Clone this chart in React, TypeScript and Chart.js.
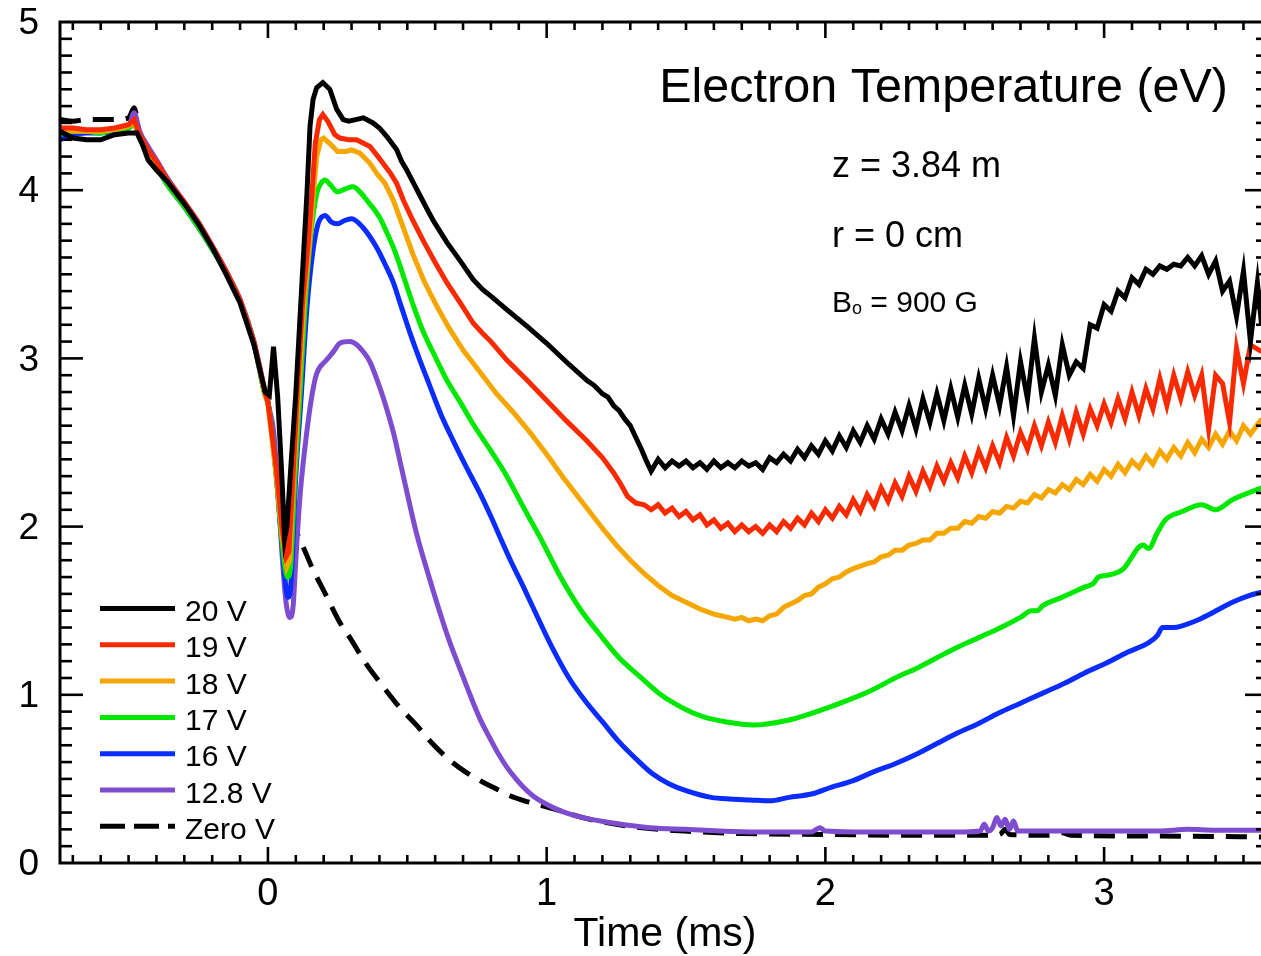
import React, { useEffect, useRef } from "react";
import { Chart, registerables } from "chart.js";

Chart.register(...registerables);

// ---------- axes ----------
const X_MIN = -0.746;
const X_MAX = 3.588;
const Y_MIN = 0;
const Y_MAX = 5;
const X_TICK_LABELS = [0, 1, 2, 3];
const Y_TICK_LABELS = [0, 1, 2, 3, 4, 5];
const X_TITLE = "Time (ms)";
const PLOT_TITLE = "Electron Temperature (eV)";
const NOTE_Z = "z = 3.84 m";
const NOTE_R = "r = 0 cm";
const NOTE_B_MAIN = "B";
const NOTE_B_SUB = "o";
const NOTE_B_REST = " = 900 G";

const SERIES_LABELS = ["20 V", "19 V", "18 V", "17 V", "16 V", "12.8 V", "Zero V"];
const SERIES_COLORS = ["#000000", "#fa2a00", "#f5a600", "#00e800", "#0a2cff", "#7d4ccf", "#000000"];

// ---------- data: [time (ms), Te (eV)] ----------
const V20: number[][] = [
  [-0.746, 4.35], [-0.70, 4.31], [-0.65, 4.30], [-0.60, 4.30], [-0.55, 4.33], [-0.50, 4.34], [-0.47, 4.34],
  [-0.45, 4.27], [-0.43, 4.18], [-0.40, 4.12], [-0.36, 4.05], [-0.30, 3.92], [-0.25, 3.80], [-0.20, 3.66],
  [-0.15, 3.50], [-0.10, 3.33], [-0.05, 3.08], [-0.01, 2.80], [0.005, 2.78], [0.02, 3.07], [0.035, 2.77],
  [0.05, 2.30], [0.06, 1.93], [0.068, 2.00], [0.08, 2.30], [0.10, 2.79], [0.12, 3.39], [0.14, 3.98],
  [0.151, 4.38], [0.162, 4.54], [0.175, 4.61], [0.197, 4.64], [0.222, 4.60], [0.247, 4.48], [0.27, 4.42],
  [0.29, 4.41], [0.315, 4.42], [0.342, 4.43], [0.377, 4.40], [0.40, 4.37], [0.426, 4.32], [0.462, 4.24],
  [0.48, 4.17], [0.498, 4.12], [0.52, 4.05], [0.545, 3.97], [0.57, 3.89], [0.593, 3.82], [0.642, 3.69],
  [0.69, 3.58], [0.736, 3.47], [0.77, 3.41], [0.80, 3.37], [0.857, 3.29], [0.93, 3.19], [1.0, 3.09],
  [1.07, 2.98], [1.144, 2.87], [1.17, 2.84], [1.20, 2.79], [1.22, 2.77], [1.24, 2.72], [1.26, 2.69],
  [1.28, 2.64], [1.30, 2.60], [1.32, 2.53], [1.34, 2.46], [1.355, 2.40],
  [1.375, 2.33], [1.40, 2.40], [1.425, 2.35], [1.45, 2.39], [1.475, 2.36], [1.50, 2.39], [1.525, 2.35],
  [1.55, 2.38], [1.575, 2.34], [1.60, 2.39], [1.625, 2.35], [1.65, 2.38], [1.675, 2.35], [1.70, 2.39],
  [1.725, 2.36], [1.75, 2.38], [1.775, 2.34], [1.80, 2.41], [1.825, 2.38], [1.85, 2.43], [1.875, 2.39],
  [1.90, 2.46], [1.925, 2.41], [1.95, 2.48], [1.975, 2.43], [2.00, 2.51], [2.025, 2.45], [2.05, 2.54],
  [2.075, 2.47], [2.10, 2.57], [2.125, 2.50], [2.15, 2.60], [2.175, 2.52], [2.20, 2.64], [2.225, 2.55],
  [2.25, 2.68], [2.275, 2.57], [2.30, 2.72], [2.325, 2.58], [2.35, 2.76], [2.375, 2.62], [2.40, 2.79],
  [2.425, 2.63], [2.45, 2.82], [2.475, 2.65], [2.50, 2.84], [2.525, 2.67], [2.55, 2.88], [2.575, 2.70],
  [2.60, 2.90], [2.625, 2.72], [2.65, 2.95], [2.675, 2.66], [2.70, 2.98], [2.725, 2.76], [2.75, 3.12],
  [2.775, 2.80], [2.80, 2.96], [2.825, 2.78], [2.85, 3.08], [2.875, 2.90], [2.90, 2.98], [2.925, 2.94],
  [2.95, 3.20], [2.975, 3.18], [3.00, 3.32], [3.025, 3.28], [3.05, 3.40], [3.075, 3.36], [3.10, 3.48],
  [3.125, 3.44], [3.15, 3.53], [3.175, 3.50], [3.20, 3.55], [3.225, 3.53], [3.25, 3.56], [3.275, 3.55],
  [3.30, 3.60], [3.325, 3.55], [3.35, 3.61], [3.375, 3.50], [3.40, 3.58], [3.425, 3.40], [3.45, 3.46],
  [3.475, 3.25], [3.50, 3.52], [3.525, 3.10], [3.55, 3.45], [3.565, 3.20],
];

const V19: number[][] = [
  [-0.746, 4.37], [-0.70, 4.37], [-0.65, 4.36], [-0.60, 4.36], [-0.55, 4.37], [-0.50, 4.39], [-0.48, 4.42],
  [-0.46, 4.33], [-0.43, 4.24], [-0.40, 4.17], [-0.36, 4.06], [-0.30, 3.93], [-0.25, 3.81], [-0.20, 3.67],
  [-0.15, 3.52], [-0.10, 3.35], [-0.05, 3.10], [-0.01, 2.80], [0.0, 2.74], [0.03, 2.35], [0.05, 2.00],
  [0.065, 1.82], [0.075, 1.85], [0.09, 2.30], [0.105, 2.79], [0.125, 3.35], [0.145, 3.70], [0.158, 3.98],
  [0.17, 4.28], [0.185, 4.42], [0.197, 4.45], [0.215, 4.41], [0.24, 4.33], [0.258, 4.31], [0.29, 4.30],
  [0.318, 4.30], [0.366, 4.26], [0.39, 4.21], [0.413, 4.16], [0.44, 4.10], [0.462, 4.04], [0.486, 3.94],
  [0.52, 3.82], [0.557, 3.70], [0.60, 3.57], [0.642, 3.45], [0.69, 3.33], [0.736, 3.21], [0.77, 3.15],
  [0.80, 3.10], [0.857, 2.99], [0.93, 2.87], [1.0, 2.75], [1.07, 2.63], [1.144, 2.51], [1.20, 2.41],
  [1.24, 2.32], [1.263, 2.26], [1.29, 2.18], [1.32, 2.14],
  [1.35, 2.13], [1.375, 2.10], [1.40, 2.13], [1.425, 2.08], [1.45, 2.11], [1.475, 2.06], [1.50, 2.09],
  [1.525, 2.04], [1.55, 2.07], [1.575, 2.01], [1.60, 2.04], [1.625, 1.99], [1.65, 2.02], [1.675, 1.97],
  [1.70, 2.01], [1.725, 1.97], [1.75, 2.00], [1.775, 1.96], [1.80, 2.01], [1.825, 1.97], [1.85, 2.03],
  [1.875, 1.99], [1.90, 2.05], [1.925, 2.01], [1.95, 2.08], [1.975, 2.03], [2.00, 2.10], [2.025, 2.05],
  [2.05, 2.12], [2.075, 2.07], [2.10, 2.16], [2.125, 2.09], [2.15, 2.19], [2.175, 2.12], [2.20, 2.23],
  [2.225, 2.15], [2.25, 2.26], [2.275, 2.18], [2.30, 2.30], [2.325, 2.21], [2.35, 2.33], [2.375, 2.24],
  [2.40, 2.36], [2.425, 2.27], [2.45, 2.38], [2.475, 2.29], [2.50, 2.42], [2.525, 2.32], [2.55, 2.45],
  [2.575, 2.35], [2.60, 2.48], [2.625, 2.38], [2.65, 2.53], [2.675, 2.42], [2.70, 2.56], [2.725, 2.46],
  [2.75, 2.60], [2.775, 2.48], [2.80, 2.62], [2.825, 2.50], [2.85, 2.66], [2.875, 2.52], [2.90, 2.68],
  [2.925, 2.55], [2.95, 2.70], [2.975, 2.60], [3.00, 2.73], [3.025, 2.62], [3.05, 2.76], [3.075, 2.64],
  [3.10, 2.80], [3.125, 2.66], [3.15, 2.82], [3.175, 2.70], [3.20, 2.88], [3.225, 2.72], [3.25, 2.90],
  [3.275, 2.76], [3.30, 2.92], [3.325, 2.78], [3.35, 2.90], [3.375, 2.58], [3.40, 2.90], [3.425, 2.85],
  [3.45, 2.62], [3.475, 3.06], [3.50, 2.85], [3.525, 3.08], [3.565, 3.04],
];

const V18: number[][] = [
  [-0.746, 4.36], [-0.70, 4.35], [-0.65, 4.35], [-0.60, 4.35], [-0.55, 4.36], [-0.50, 4.38], [-0.48, 4.40],
  [-0.46, 4.32], [-0.43, 4.23], [-0.40, 4.16], [-0.36, 4.05], [-0.30, 3.92], [-0.25, 3.80], [-0.20, 3.66],
  [-0.15, 3.51], [-0.10, 3.34], [-0.05, 3.09], [-0.01, 2.78], [0.0, 2.73], [0.03, 2.30], [0.05, 1.95],
  [0.068, 1.76], [0.078, 1.80], [0.093, 2.30], [0.11, 2.79], [0.13, 3.35], [0.15, 3.70], [0.163, 3.98],
  [0.175, 4.20], [0.19, 4.30], [0.20, 4.31], [0.22, 4.28], [0.25, 4.23], [0.28, 4.23], [0.30, 4.24],
  [0.33, 4.22], [0.366, 4.16], [0.39, 4.10], [0.42, 4.04], [0.45, 3.94], [0.485, 3.78], [0.52, 3.62],
  [0.56, 3.46], [0.606, 3.31], [0.65, 3.18], [0.70, 3.05], [0.76, 2.92], [0.82, 2.79], [0.88, 2.68],
  [0.94, 2.56], [1.0, 2.43], [1.06, 2.29], [1.13, 2.14], [1.20, 1.99], [1.25, 1.89], [1.30, 1.80],
  [1.35, 1.72], [1.40, 1.65], [1.45, 1.59], [1.50, 1.55], [1.55, 1.51],
  [1.60, 1.48], [1.625, 1.47], [1.65, 1.46], [1.675, 1.45], [1.70, 1.46], [1.725, 1.44], [1.75, 1.45],
  [1.775, 1.44], [1.80, 1.47], [1.825, 1.48], [1.85, 1.52], [1.875, 1.54], [1.90, 1.56], [1.925, 1.59],
  [1.95, 1.60], [1.975, 1.64], [2.00, 1.66], [2.025, 1.69], [2.05, 1.70], [2.075, 1.73], [2.10, 1.75],
  [2.15, 1.78], [2.175, 1.79], [2.20, 1.82], [2.225, 1.83], [2.25, 1.86], [2.275, 1.86], [2.30, 1.89],
  [2.325, 1.90], [2.35, 1.92], [2.375, 1.92], [2.40, 1.96], [2.425, 1.96], [2.45, 1.99], [2.475, 1.99],
  [2.50, 2.03], [2.525, 2.02], [2.55, 2.06], [2.575, 2.05], [2.60, 2.09], [2.625, 2.08], [2.65, 2.12],
  [2.675, 2.11], [2.70, 2.15], [2.725, 2.14], [2.75, 2.19], [2.775, 2.17], [2.80, 2.22], [2.825, 2.20],
  [2.85, 2.25], [2.875, 2.22], [2.90, 2.28], [2.925, 2.25], [2.95, 2.31], [2.975, 2.27], [3.00, 2.34],
  [3.025, 2.30], [3.05, 2.37], [3.075, 2.32], [3.10, 2.39], [3.125, 2.35], [3.15, 2.42], [3.175, 2.37],
  [3.20, 2.45], [3.225, 2.40], [3.25, 2.47], [3.275, 2.42], [3.30, 2.50], [3.325, 2.44], [3.35, 2.52],
  [3.375, 2.47], [3.40, 2.55], [3.425, 2.49], [3.45, 2.57], [3.475, 2.51], [3.50, 2.60], [3.525, 2.55],
  [3.565, 2.64],
];

const V17: number[][] = [
  [-0.746, 4.33], [-0.70, 4.35], [-0.65, 4.35], [-0.60, 4.34], [-0.55, 4.36], [-0.50, 4.37], [-0.48, 4.39],
  [-0.46, 4.31], [-0.43, 4.21], [-0.40, 4.14], [-0.36, 4.03], [-0.30, 3.90], [-0.25, 3.78], [-0.20, 3.65],
  [-0.15, 3.51], [-0.10, 3.34], [-0.05, 3.09], [-0.01, 2.78], [0.0, 2.74], [0.03, 2.30], [0.05, 1.92],
  [0.07, 1.70], [0.08, 1.74], [0.097, 2.30], [0.115, 2.79], [0.135, 3.35], [0.155, 3.75], [0.175, 3.98],
  [0.19, 4.04], [0.205, 4.06], [0.225, 4.03], [0.25, 3.99], [0.28, 4.01], [0.305, 4.02], [0.33, 3.99],
  [0.355, 3.94], [0.40, 3.84], [0.426, 3.75], [0.45, 3.66], [0.474, 3.55], [0.498, 3.43], [0.527, 3.29],
  [0.557, 3.16], [0.60, 3.01], [0.642, 2.87], [0.69, 2.74], [0.736, 2.61], [0.80, 2.45], [0.857, 2.30],
  [0.915, 2.12], [0.975, 1.94], [1.05, 1.70], [1.12, 1.51], [1.19, 1.36], [1.26, 1.22], [1.34, 1.10],
  [1.41, 1.00], [1.49, 0.92], [1.56, 0.87], [1.64, 0.84], [1.74, 0.82], [1.87, 0.85], [1.95, 0.89],
  [2.02, 0.93], [2.10, 0.98], [2.17, 1.03], [2.25, 1.10], [2.33, 1.16], [2.40, 1.22], [2.47, 1.28],
  [2.55, 1.34], [2.63, 1.40], [2.70, 1.46], [2.74, 1.50], [2.76, 1.50], [2.78, 1.53], [2.85, 1.58],
  [2.93, 1.64], [2.96, 1.66], [2.98, 1.70], [3.01, 1.71], [3.07, 1.75], [3.10, 1.82], [3.12, 1.87],
  [3.14, 1.89], [3.16, 1.87], [3.19, 1.96], [3.22, 2.04], [3.28, 2.09], [3.35, 2.13], [3.40, 2.10],
  [3.46, 2.16], [3.565, 2.23],
];

const V16: number[][] = [
  [-0.746, 4.30], [-0.70, 4.33], [-0.65, 4.34], [-0.60, 4.34], [-0.55, 4.35], [-0.50, 4.37], [-0.48, 4.39],
  [-0.46, 4.31], [-0.43, 4.21], [-0.40, 4.14], [-0.36, 4.03], [-0.30, 3.90], [-0.25, 3.78], [-0.20, 3.65],
  [-0.15, 3.51], [-0.10, 3.34], [-0.05, 3.09], [-0.01, 2.78], [0.0, 2.74], [0.03, 2.30], [0.05, 1.90],
  [0.072, 1.58], [0.082, 1.65], [0.10, 2.30], [0.12, 2.79], [0.14, 3.30], [0.16, 3.62], [0.18, 3.80],
  [0.205, 3.85], [0.228, 3.81], [0.25, 3.80], [0.275, 3.82], [0.30, 3.83], [0.34, 3.78], [0.39, 3.66],
  [0.426, 3.54], [0.45, 3.45], [0.474, 3.33], [0.51, 3.15], [0.545, 2.99], [0.58, 2.84], [0.62, 2.67],
  [0.665, 2.51], [0.71, 2.36], [0.76, 2.20], [0.80, 2.06], [0.832, 1.94], [0.87, 1.80], [0.92, 1.63],
  [0.965, 1.47], [1.02, 1.28], [1.08, 1.10], [1.14, 0.96], [1.20, 0.84], [1.26, 0.72], [1.32, 0.62],
  [1.38, 0.53], [1.44, 0.47], [1.50, 0.43], [1.59, 0.39], [1.66, 0.38], [1.73, 0.375], [1.80, 0.37],
  [1.87, 0.39], [1.95, 0.41], [2.02, 0.45], [2.10, 0.49], [2.17, 0.54], [2.25, 0.59], [2.33, 0.65],
  [2.40, 0.71], [2.47, 0.77], [2.55, 0.83], [2.62, 0.89], [2.70, 0.95], [2.78, 1.01], [2.86, 1.07],
  [2.93, 1.13], [3.01, 1.19], [3.08, 1.25], [3.16, 1.31], [3.19, 1.35], [3.21, 1.40], [3.25, 1.40],
  [3.28, 1.41], [3.33, 1.44], [3.38, 1.48], [3.46, 1.55], [3.52, 1.59], [3.565, 1.61],
];

const V12_8: number[][] = [
  [-0.746, 4.32], [-0.70, 4.34], [-0.65, 4.35], [-0.60, 4.35], [-0.55, 4.36], [-0.50, 4.38], [-0.48, 4.46],
  [-0.46, 4.35], [-0.43, 4.26], [-0.40, 4.18], [-0.36, 4.07], [-0.30, 3.93], [-0.25, 3.81], [-0.20, 3.67],
  [-0.15, 3.52], [-0.10, 3.35], [-0.05, 3.10], [-0.01, 2.80], [0.0, 2.73], [0.02, 2.57], [0.035, 2.25],
  [0.05, 1.85], [0.065, 1.55], [0.079, 1.46], [0.09, 1.52], [0.10, 1.80], [0.115, 2.18], [0.14, 2.57],
  [0.16, 2.80], [0.175, 2.91], [0.21, 2.99], [0.235, 3.04], [0.258, 3.09], [0.294, 3.10], [0.32, 3.08],
  [0.342, 3.04], [0.366, 2.98], [0.39, 2.88], [0.413, 2.77], [0.45, 2.56], [0.475, 2.38], [0.498, 2.21],
  [0.533, 1.96], [0.58, 1.69], [0.615, 1.50], [0.653, 1.31], [0.69, 1.15], [0.725, 1.00], [0.76, 0.86],
  [0.797, 0.74], [0.83, 0.64], [0.857, 0.57], [0.89, 0.50], [0.917, 0.45], [0.95, 0.40], [0.988, 0.36],
  [1.05, 0.31], [1.13, 0.27], [1.25, 0.235], [1.37, 0.21], [1.50, 0.20], [1.73, 0.185], [1.95, 0.185],
  [1.98, 0.21], [2.00, 0.19], [2.10, 0.185], [2.30, 0.185], [2.50, 0.185], [2.555, 0.19], [2.57, 0.23],
  [2.585, 0.19], [2.60, 0.21], [2.615, 0.27], [2.63, 0.22], [2.645, 0.26], [2.66, 0.20], [2.675, 0.25],
  [2.69, 0.19], [2.80, 0.19], [3.00, 0.19], [3.20, 0.19], [3.30, 0.20], [3.40, 0.195], [3.565, 0.195],
];

const V0: number[][] = [
  [-0.746, 4.42], [-0.70, 4.41], [-0.65, 4.42], [-0.60, 4.42], [-0.55, 4.42], [-0.50, 4.43], [-0.48, 4.49],
  [-0.46, 4.33], [-0.43, 4.22], [-0.40, 4.15], [-0.36, 4.05], [-0.30, 3.92], [-0.25, 3.80], [-0.20, 3.66],
  [-0.15, 3.51], [-0.10, 3.34], [-0.05, 3.09], [-0.01, 2.79], [0.0, 2.74], [0.03, 2.35], [0.06, 2.05],
  [0.09, 2.00], [0.121, 1.90], [0.16, 1.75], [0.20, 1.62], [0.258, 1.43], [0.294, 1.34], [0.35, 1.19],
  [0.413, 1.05], [0.47, 0.93], [0.533, 0.82], [0.59, 0.71], [0.653, 0.61], [0.71, 0.54], [0.772, 0.48],
  [0.82, 0.44], [0.868, 0.40], [0.92, 0.37], [0.965, 0.35], [1.05, 0.31], [1.13, 0.27], [1.25, 0.23],
  [1.40, 0.20], [1.55, 0.185], [1.70, 0.175], [2.00, 0.17], [2.30, 0.165], [2.60, 0.165], [2.63, 0.175],
  [2.645, 0.20], [2.66, 0.17], [2.80, 0.165], [2.85, 0.18], [2.88, 0.165], [3.20, 0.16], [3.565, 0.155],
];

const SERIES_DATA = [V20, V19, V18, V17, V16, V12_8, V0];
const SERIES_NOISY = [true, true, true, false, false, false, false];

const FONT = '"Liberation Sans", Arial, Helvetica, sans-serif';

const framePlugin = {
  id: "frameAndText",
  afterDraw(chart: any) {
    const ctx: CanvasRenderingContext2D = chart.ctx;
    const xs = chart.scales.x;
    const ys = chart.scales.y;
    const { left, right, top, bottom } = chart.chartArea;
    ctx.save();
    ctx.strokeStyle = "#000";
    ctx.fillStyle = "#000";
    ctx.lineWidth = 3;
    ctx.lineCap = "butt";
    ctx.setLineDash([]);
    ctx.beginPath();
    ctx.rect(left, top, right - left, bottom - top);
    ctx.stroke();

    const seg = (x1: number, y1: number, x2: number, y2: number) => {
      ctx.beginPath();
      ctx.moveTo(x1, y1);
      ctx.lineTo(x2, y2);
      ctx.stroke();
    };
    ctx.lineWidth = 2.6;
    // x ticks (every 0.1, major every 1)
    for (let i = Math.ceil(X_MIN * 10); i <= Math.floor(X_MAX * 10); i++) {
      const px = xs.getPixelForValue(i / 10);
      const len = i % 10 === 0 ? 16 : 8;
      seg(px, bottom, px, bottom - len);
      seg(px, top, px, top + len);
    }
    // y ticks (every 0.1, major every 1)
    for (let i = Math.round(Y_MIN * 10) + 1; i < Math.round(Y_MAX * 10); i++) {
      const py = ys.getPixelForValue(i / 10);
      const len = i % 10 === 0 ? 23 : 12;
      seg(left, py, left + len, py);
      seg(right, py, right - len, py);
    }

    // tick labels
    ctx.font = `37px ${FONT}`;
    ctx.textAlign = "right";
    ctx.textBaseline = "middle";
    Y_TICK_LABELS.forEach((v) => {
      ctx.fillText(String(v), 39, ys.getPixelForValue(v) + 2);
    });
    ctx.font = `38px ${FONT}`;
    ctx.textAlign = "center";
    ctx.textBaseline = "alphabetic";
    X_TICK_LABELS.forEach((v) => {
      ctx.fillText(String(v), xs.getPixelForValue(v), 905);
    });
    ctx.font = `41px ${FONT}`;
    ctx.fillText(X_TITLE, 665, 946);

    // title and notes
    ctx.font = `48.5px ${FONT}`;
    ctx.textAlign = "right";
    ctx.fillText(PLOT_TITLE, 1228, 102);
    ctx.textAlign = "left";
    ctx.font = `36px ${FONT}`;
    ctx.fillText(NOTE_Z, 832, 177);
    ctx.fillText(NOTE_R, 832, 247);
    ctx.font = `30px ${FONT}`;
    ctx.fillText(NOTE_B_MAIN, 832, 312);
    let bx = 832 + ctx.measureText(NOTE_B_MAIN).width;
    ctx.font = `18px ${FONT}`;
    ctx.fillText(NOTE_B_SUB, bx, 314);
    bx += ctx.measureText(NOTE_B_SUB).width;
    ctx.font = `30px ${FONT}`;
    ctx.fillText(NOTE_B_REST, bx, 312);

    // legend
    ctx.font = `30px ${FONT}`;
    SERIES_LABELS.forEach((lab, i) => {
      const y = 608.5 + i * 36.3;
      ctx.strokeStyle = SERIES_COLORS[i];
      ctx.lineWidth = 5;
      ctx.setLineDash(i === 6 ? [25, 9] : []);
      seg(100, y, 175, y);
      ctx.setLineDash([]);
      ctx.fillStyle = "#000";
      ctx.fillText(lab, 185, y + 12.5);
    });
    ctx.restore();
  },
};

export default function App() {
  const ref = useRef<HTMLCanvasElement>(null);
  useEffect(() => {
    document.body.style.margin = "0";
    document.body.style.overflow = "hidden";
    const canvas = ref.current;
    if (!canvas) return;
    const datasets = SERIES_DATA.map((arr, i) => ({
      label: SERIES_LABELS[i],
      data: arr.map((p) => ({ x: p[0], y: p[1] })),
      borderColor: SERIES_COLORS[i],
      backgroundColor: SERIES_COLORS[i],
      borderWidth: 5,
      borderDash: i === 6 ? [21, 12] : [],
      pointRadius: 0,
      fill: false,
      tension: 0,
      cubicInterpolationMode: SERIES_NOISY[i] ? "default" : "monotone",
    }));
    const chart = new Chart(canvas, {
      type: "line",
      data: { datasets } as any,
      options: {
        animation: false,
        responsive: false,
        devicePixelRatio: 1,
        events: [],
        layout: { padding: { left: 60, top: 22, right: 7, bottom: 93 } },
        plugins: { legend: { display: false }, tooltip: { enabled: false } },
        scales: {
          x: { type: "linear", min: X_MIN, max: X_MAX, display: false },
          y: { type: "linear", min: Y_MIN, max: Y_MAX, display: false },
        },
      },
      plugins: [framePlugin],
    } as any);
    return () => chart.destroy();
  }, []);
  return (
    <div style={{ width: 1261, height: 956, overflow: "hidden", position: "relative", background: "#fff" }}>
      <canvas ref={ref} width={1275} height={956} style={{ display: "block" }} />
    </div>
  );
}
